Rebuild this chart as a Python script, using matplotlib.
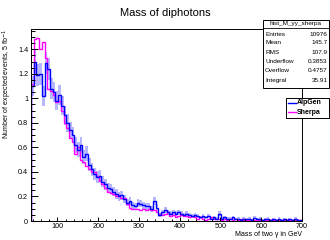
"""
Mass of diphotons: AlpGen vs Sherpa, 5 fb^-1
ROOT-style histogram comparison with stats box and legend.
"""

import numpy as np
import matplotlib
matplotlib.use("Agg")
import matplotlib.pyplot as plt
from matplotlib.patches import Rectangle
from matplotlib.lines import Line2D
from matplotlib.ticker import MultipleLocator, FormatStrFormatter

plt.rcParams["font.family"] = ["Liberation Sans", "DejaVu Sans"]

# histogram binning (GeV)
X_MIN, X_MAX = 35, 700
N_BINS = 100

# expected events per bin
alpgen = [
    1.10, 1.30, 1.19, 1.20, 1.02, 1.29, 1.24, 1.08, 1.05, 0.98,
    1.03, 0.94, 0.86, 0.80, 0.74, 0.70, 0.62, 0.58, 0.62, 0.52,
    0.55, 0.46, 0.42, 0.38, 0.36, 0.37, 0.32, 0.30, 0.27, 0.26,
    0.24, 0.22, 0.20, 0.21, 0.18, 0.15, 0.16, 0.13, 0.12, 0.15,
    0.14, 0.13, 0.12, 0.12, 0.10, 0.16, 0.11, 0.05, 0.07, 0.09,
    0.07, 0.06, 0.07, 0.06, 0.07, 0.06, 0.05, 0.06, 0.05, 0.04,
    0.05, 0.04, 0.03, 0.04, 0.03, 0.04, 0.02, 0.03, 0.02, 0.06,
    0.02, 0.03, 0.02, 0.02, 0.03, 0.015, 0.02, 0.01, 0.02, 0.015,
    0.02, 0.01, 0.025, 0.015, 0.02, 0.01, 0.015, 0.02, 0.01, 0.015,
    0.01, 0.02, 0.01, 0.015, 0.01, 0.015, 0.01, 0.02, 0.01, 0.005,
]
sherpa = [
    1.12, 1.48, 1.49, 1.40, 1.46, 1.33, 1.08, 1.06, 1.03, 0.97,
    0.98, 0.90, 0.80, 0.76, 0.68, 0.64, 0.55, 0.60, 0.50, 0.48,
    0.45, 0.42, 0.40, 0.40, 0.37, 0.33, 0.30, 0.27, 0.24, 0.23,
    0.22, 0.20, 0.21, 0.19, 0.19, 0.14, 0.11, 0.10, 0.10, 0.10,
    0.09, 0.10, 0.09, 0.10, 0.09, 0.09, 0.07, 0.06, 0.05, 0.06,
    0.07, 0.04, 0.05, 0.03, 0.04, 0.05, 0.04, 0.04, 0.03, 0.04,
    0.03, 0.02, 0.03, 0.02, 0.01, 0.02, 0.03, 0.02, 0.02, 0.02,
    0.01, 0.02, 0.01, 0.02, 0.01, 0.02, 0.01, 0.015, 0.01, 0.01,
    0.005, 0.01, 0.01, 0.005, 0.01, 0.005, 0.01, 0.01, 0.005, 0.01,
    0.005, 0.01, 0.005, 0.01, 0.005, 0.005, 0.01, 0.005, 0.005, 0.005,
]

stats_title = "hist_M_yy_sherpa"
stats_labels = ["Entries", "Mean", "RMS", "Underflow", "Overflow", "Integral"]
stats_values = ["10976", "145.7", "107.9", "0.3853", "0.4757", "35.91"]

legend_labels = ["AlpGen", "Sherpa"]
BLUE = "#0000ff"
MAGENTA = "#ff00ff"

W, H = 330, 240


def fx(px):
    return px / W


def fy(py):
    return 1 - py / H


def main():
    edges = np.linspace(X_MIN, X_MAX, N_BINS + 1)
    a = np.array(alpgen)
    s = np.array(sherpa)
    a_err = 0.08 * np.sqrt(a)   # statistical band on AlpGen

    fig = plt.figure(figsize=(W / 100, H / 100), dpi=100)
    ax = fig.add_axes([fx(31), fy(221), fx(302) - fx(31), fy(29) - fy(221)])

    ax.stairs(a + a_err, edges, baseline=a - a_err, fill=True,
              color="#7070ff", alpha=0.5, lw=0)
    ax.stairs(s, edges, baseline=0, color=MAGENTA, lw=1.0)
    ax.stairs(a, edges, baseline=0, color=BLUE, lw=1.0)

    ax.set_xlim(X_MIN, X_MAX)
    ax.set_ylim(0, 1.565)

    ax.xaxis.set_major_locator(MultipleLocator(100))
    ax.xaxis.set_minor_locator(MultipleLocator(20))
    ax.yaxis.set_major_locator(MultipleLocator(0.2))
    ax.yaxis.set_minor_locator(MultipleLocator(0.05))
    ax.yaxis.set_major_formatter(FormatStrFormatter("%g"))

    ax.tick_params(axis="both", which="both", direction="in",
                   labelsize=5.2, width=0.7, top=False, right=False)
    ax.tick_params(axis="y", which="major", length=5, pad=2)
    ax.tick_params(axis="y", which="minor", length=2.8)
    ax.tick_params(axis="x", which="major", length=2.6, pad=1.5)
    ax.tick_params(axis="x", which="minor", length=1.4)
    for sp in ax.spines.values():
        sp.set_linewidth(0.7)

    ax.set_xlabel("Mass of two \u03b3 in GeV", fontsize=5, loc="right", labelpad=1)
    ax.set_ylabel("Number of expected events, 5 fb$^{-1}$", fontsize=5,
                  loc="top", labelpad=2.5)

    fig.text(fx(165), fy(13), "Mass of diphotons", fontsize=8,
             ha="center", va="center")

    # stats box
    fig.add_artist(Rectangle((fx(263), fy(88)), fx(329) - fx(263), fy(20) - fy(88),
                             transform=fig.transFigure, facecolor="white",
                             edgecolor="black", lw=0.7))
    fig.add_artist(Line2D([fx(263), fx(329)], [fy(28.3), fy(28.3)],
                          transform=fig.transFigure, color="black", lw=0.6))
    fig.text(fx(296), fy(24), stats_title, fontsize=4.6, ha="center", va="center")
    rows_y = [34, 43, 52.5, 61.7, 71, 80.5]
    for y, lab, val in zip(rows_y, stats_labels, stats_values):
        fig.text(fx(265), fy(y), lab, fontsize=4.6, ha="left", va="center")
        fig.text(fx(327.5), fy(y), val, fontsize=4.6, ha="right", va="center")

    # legend
    fig.add_artist(Rectangle((fx(286), fy(118)), fx(329) - fx(286), fy(98) - fy(118),
                             transform=fig.transFigure, facecolor="white",
                             edgecolor="black", lw=0.7))
    for y, lab, col in zip([103, 112], legend_labels, [BLUE, MAGENTA]):
        fig.add_artist(Line2D([fx(288), fx(296)], [fy(y), fy(y)],
                              transform=fig.transFigure, color=col, lw=1.0))
        fig.text(fx(297), fy(y), lab, fontsize=5, fontweight="bold",
                 ha="left", va="center")

    fig.savefig("out.png", dpi=100)
    plt.close(fig)


if __name__ == "__main__":
    main()
